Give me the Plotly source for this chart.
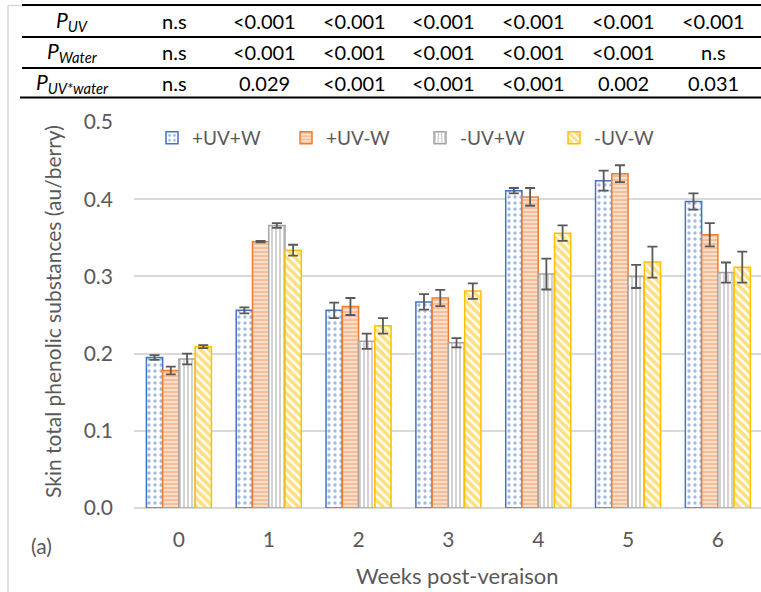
import plotly.graph_objects as go

weeks = ["0", "1", "2", "3", "4", "5", "6"]
series_names = ["+UV+W", "+UV-W", "-UV+W", "-UV-W"]

uv_w = [0.195, 0.256, 0.256, 0.267, 0.411, 0.424, 0.397]
uv_w_err = [0.003, 0.004, 0.010, 0.010, 0.0035, 0.013, 0.0105]
uv_nw = [0.178, 0.345, 0.261, 0.272, 0.403, 0.433, 0.354]
uv_nw_err = [0.005, 0.001, 0.011, 0.0105, 0.0115, 0.011, 0.015]
nuv_w = [0.193, 0.366, 0.216, 0.214, 0.303, 0.300, 0.305]
nuv_w_err = [0.007, 0.003, 0.010, 0.006, 0.020, 0.015, 0.013]
nuv_nw = [0.209, 0.334, 0.236, 0.281, 0.356, 0.3185, 0.312]
nuv_nw_err = [0.002, 0.007, 0.010, 0.010, 0.010, 0.020, 0.020]

row_labels = ["<i>P<sub>UV</sub></i>", "<i>P<sub>Water</sub></i>", "<i>P<sub>UV*water</sub></i>"]
p_uv = ["n.s", "<0.001", "<0.001", "<0.001", "<0.001", "<0.001", "<0.001"]
p_water = ["n.s", "<0.001", "<0.001", "<0.001", "<0.001", "<0.001", "n.s"]
p_inter = ["n.s", "0.029", "<0.001", "<0.001", "<0.001", "0.002", "0.031"]

W, H = 761, 592
L, R, T, B = 134, 0, 122, 84
pw = W - L - R
ph = H - T - B


def px(x):
    return (x - L) / pw


def py(y):
    return (H - B - y) / ph


FONT = "Lato"
GREY = "#595959"

styles = [
    dict(color="#4472C4", shape=".", size=6, solidity=0.25),
    dict(color="#ED7D31", shape="-", size=4, solidity=0.75),
    dict(color="#A5A5A5", shape="|", size=4, solidity=0.5),
    dict(color="#FFC000", shape="\\", size=6, solidity=0.6),
]
values = [uv_w, uv_nw, nuv_w, nuv_nw]
errors = [uv_w_err, uv_nw_err, nuv_w_err, nuv_nw_err]

fig = go.Figure()
for name, v, e, s in zip(series_names, values, errors, styles):
    fig.add_trace(go.Bar(
        x=list(range(len(weeks))), y=v, name=name,
        marker=dict(
            color="white",
            line=dict(color=s["color"], width=1.5),
            pattern=dict(shape=s["shape"], fgcolor=s["color"], bgcolor="white",
                         size=s["size"], solidity=s["solidity"], fillmode="overlay"),
        ),
        error_y=dict(type="data", array=e, color=GREY, thickness=1.8, width=5),
    ))

fig.update_layout(
    width=W, height=H,
    margin=dict(l=L, r=R, t=T, b=B, pad=0, autoexpand=False),
    paper_bgcolor="white", plot_bgcolor="white",
    barmode="group", bargap=0.276, bargroupgap=0,
    font=dict(family=FONT, color=GREY, size=20),
    showlegend=True,
    legend=dict(orientation="h", x=px(152), y=py(138), xanchor="left", yanchor="middle",
                font=dict(size=19, color=GREY), entrywidth=89, entrywidthmode="pixels",
                bgcolor="rgba(0,0,0,0)", traceorder="normal"),
    xaxis=dict(range=[-0.5, 6.48], tickmode="array", tickvals=list(range(len(weeks))),
               ticktext=weeks, showgrid=False, showline=False, zeroline=False, automargin=False,
               ticks="", ticklabelstandoff=17, tickfont=dict(size=21, color=GREY)),
    yaxis=dict(range=[0, 0.5], dtick=0.1, tickformat=".1f", showgrid=True, automargin=False,
               gridcolor="#D9D9D9", gridwidth=1.5, zeroline=True, zerolinecolor="#D9D9D9",
               zerolinewidth=1.5, showline=False, ticks="", ticklabelstandoff=20,
               tickfont=dict(size=21, color=GREY)),
)

# axis titles and label
fig.add_annotation(text="Skin total phenolic substances (au/berry)", xref="paper", yref="paper",
                   x=px(52), y=py(312), textangle=-90, showarrow=False,
                   font=dict(size=21, color=GREY), xanchor="center", yanchor="middle")
fig.add_annotation(text="Weeks post-veraison", xref="paper", yref="paper",
                   x=px(457), y=py(575), showarrow=False,
                   font=dict(size=22, color=GREY), xanchor="center", yanchor="middle")
fig.add_annotation(text="(a)", xref="paper", yref="paper",
                   x=px(41), y=py(545), showarrow=False,
                   font=dict(size=21, color=GREY), xanchor="center", yanchor="middle")

# table of p-values
row_y = [21, 52, 83]
rows = [p_uv, p_water, p_inter]
for lab, yy, vals in zip(row_labels, row_y, rows):
    fig.add_annotation(text=lab, xref="paper", yref="paper", x=px(72), y=py(yy),
                       showarrow=False, font=dict(size=21, color="black"),
                       xanchor="center", yanchor="middle")
    for i, t in enumerate(vals):
        fig.add_annotation(text=t.replace("<", "&lt;"), xref="x", yref="paper", x=i - 0.05, y=py(yy),
                           showarrow=False, font=dict(size=20, color="black"),
                           xanchor="center", yanchor="middle")

# chart-area border (left/top) and table rules
fig.add_shape(type="line", xref="paper", yref="paper", x0=px(8), x1=px(8), y0=py(5), y1=py(H),
              line=dict(color="#D9D9D9", width=1.5))
fig.add_shape(type="line", xref="paper", yref="paper", x0=px(8), x1=px(W), y0=py(5.5), y1=py(5.5),
              line=dict(color="#D9D9D9", width=1.5))
for yy, x0 in [(5, 22), (37, 22), (68, 22), (97.5, 20)]:
    fig.add_shape(type="line", xref="paper", yref="paper", x0=px(x0), x1=px(W), y0=py(yy), y1=py(yy),
                  line=dict(color="black", width=2))

fig.write_html("out.html", config={"displayModeBar": False},
               post_script="document.body.style.margin='0';document.body.style.overflow='hidden';")
